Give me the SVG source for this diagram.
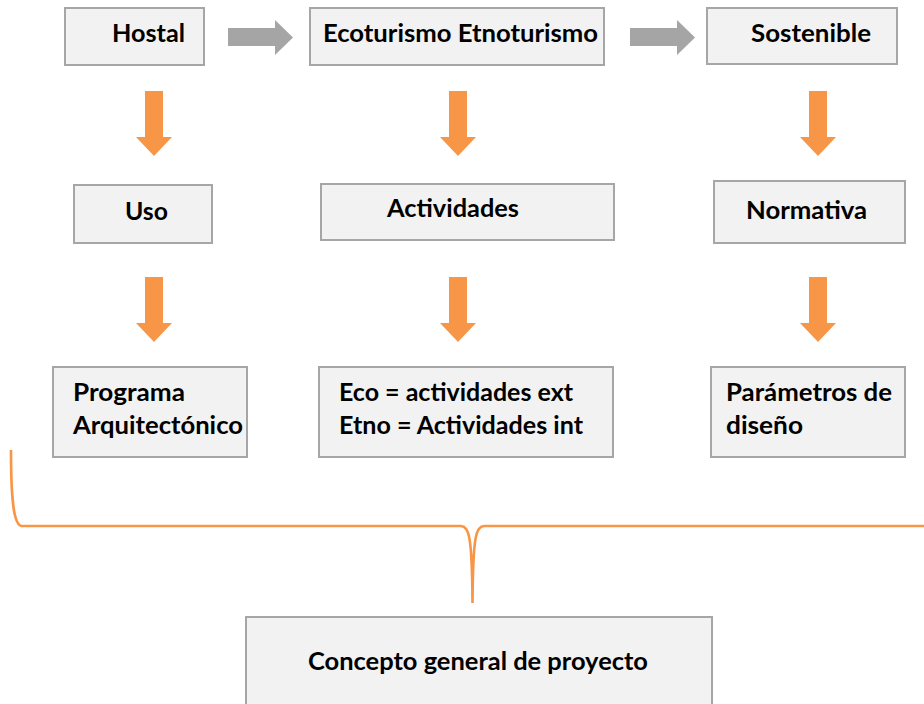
<svg xmlns="http://www.w3.org/2000/svg" width="924" height="704" viewBox="0 0 924 704">
<style>
.box{fill:#f2f2f2;stroke:#a6a6a6;stroke-width:2}
.t{font-family:"Lato","Liberation Sans",sans-serif;font-weight:bold;font-size:24px;fill:#000}
.ga{fill:#a5a5a5}
.oa{fill:#f79646}
.brace{fill:none;stroke:#f79646;stroke-width:2.6}
</style>
<rect width="924" height="704" fill="#ffffff"/>
<g id="connectors">
<path class="ga" d="M228,28 H275 V20 L293,37.5 L275,55 V46 H228 Z"/>
<path class="ga" d="M630,28 H677 V20 L695,37.5 L677,55 V46 H630 Z"/>
<path class="oa" d="M145,91 H163 V137 H172 L154,156 L136,137 H145 Z"/>
<path class="oa" d="M449,91 H467 V137 H476 L458,156 L440,137 H449 Z"/>
<path class="oa" d="M809,91 H827 V137 H836 L818,156 L800,137 H809 Z"/>
<path class="oa" d="M145,277 H163 V323 H172 L154,342 L136,323 H145 Z"/>
<path class="oa" d="M449,277 H467 V323 H476 L458,342 L440,323 H449 Z"/>
<path class="oa" d="M809,277 H827 V323 H836 L818,342 L800,323 H809 Z"/>
<path class="brace" d="M11,450 C11,495 13,526 22,526 L461,526 C469,527 472,535 472.5,603 C473,535 476,527 484,526 L926,526"/>
</g>
<g id="hostal"><rect class="box" x="65" y="8" width="139" height="57"/><text class="t" x="112" y="42" textLength="73" lengthAdjust="spacingAndGlyphs">Hostal</text></g>
<g id="ecoturismo"><rect class="box" x="310" y="8" width="294" height="57"/><text class="t" x="323" y="42" textLength="275" lengthAdjust="spacingAndGlyphs">Ecoturismo Etnoturismo</text></g>
<g id="sostenible"><rect class="box" x="707" y="8" width="190" height="56"/><text class="t" x="751" y="42" textLength="120" lengthAdjust="spacingAndGlyphs">Sostenible</text></g>
<g id="uso"><rect class="box" x="74" y="185" width="138" height="58"/><text class="t" x="125" y="220" textLength="43" lengthAdjust="spacingAndGlyphs">Uso</text></g>
<g id="actividades"><rect class="box" x="321" y="184" width="293" height="56"/><text class="t" x="387" y="217" textLength="132" lengthAdjust="spacingAndGlyphs">Actividades</text></g>
<g id="normativa"><rect class="box" x="714" y="181" width="191" height="62"/><text class="t" x="746" y="219" textLength="121" lengthAdjust="spacingAndGlyphs">Normativa</text></g>
<g id="programa"><rect class="box" x="53" y="367" width="194" height="90"/><text class="t" x="73" y="401" textLength="112" lengthAdjust="spacingAndGlyphs">Programa</text><text class="t" x="73" y="434" textLength="170" lengthAdjust="spacingAndGlyphs">Arquitectónico</text></g>
<g id="eco-etno"><rect class="box" x="319" y="367" width="294" height="90"/><text class="t" x="339" y="401" textLength="234" lengthAdjust="spacingAndGlyphs">Eco = actividades ext</text><text class="t" x="339" y="434" textLength="244" lengthAdjust="spacingAndGlyphs">Etno = Actividades int</text></g>
<g id="parametros"><rect class="box" x="711" y="367" width="194" height="90"/><text class="t" x="726" y="401" textLength="166" lengthAdjust="spacingAndGlyphs">Parámetros de</text><text class="t" x="726" y="434" textLength="77" lengthAdjust="spacingAndGlyphs">diseño</text></g>
<g id="concepto"><rect class="box" x="246" y="617" width="466" height="95"/><text class="t" x="308" y="670" textLength="340" lengthAdjust="spacingAndGlyphs">Concepto general de proyecto</text></g>
</svg>
